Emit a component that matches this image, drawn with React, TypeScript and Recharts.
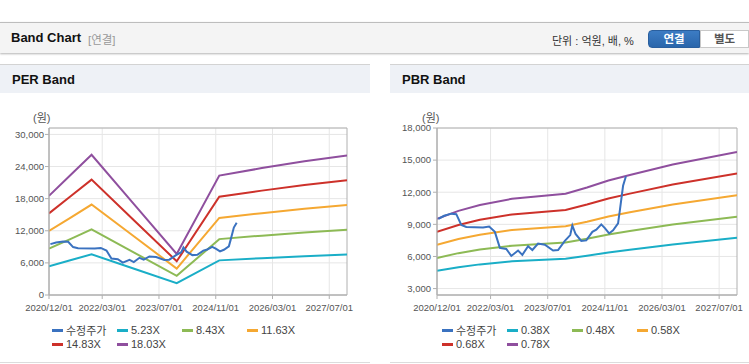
import React from "react";
import { LineChart, Line, XAxis, YAxis, CartesianGrid, ReferenceArea } from "recharts";

// x axis: months counted from 2020/12
const xTickMonths = [0, 15, 31, 47, 63, 79];
const xTickLabels = ["2020/12/01", "2022/03/01", "2023/07/01", "2024/11/01", "2026/03/01", "2027/07/01"];

// PER band
const perMonths = [0, 6, 12, 24, 36, 48, 60, 72, 84];
const per523 = [5380, 6490, 7600, 4910, 2220, 6470, 6880, 7240, 7560];
const per843 = [8670, 10450, 12250, 7920, 3580, 10440, 11090, 11680, 12180];
const per1163 = [11960, 14420, 16900, 10920, 4940, 14400, 15290, 16110, 16810];
const per1483 = [15250, 18390, 21550, 13930, 6300, 18360, 19500, 20540, 21430];
const per1803 = [18530, 22360, 26200, 16930, 7660, 22320, 23710, 24970, 26050];
const perLabels = ["5.23X", "8.43X", "11.63X", "14.83X", "18.03X"];
const perTicks = [0, 6000, 12000, 18000, 24000, 30000];

// PBR band
const pbrMonths = [0, 6, 12, 21, 36, 42, 48, 54, 66, 84];
const pbr038 = [4660, 5000, 5260, 5550, 5780, 6060, 6380, 6630, 7110, 7750];
const pbr048 = [5860, 6310, 6650, 7010, 7300, 7660, 8060, 8380, 8980, 9700];
const pbr058 = [7080, 7630, 8030, 8470, 8820, 9250, 9740, 10120, 10850, 11720];
const pbr068 = [8300, 8940, 9420, 9930, 10340, 10850, 11420, 11870, 12720, 13740];
const pbr078 = [9520, 10260, 10800, 11390, 11860, 12440, 13100, 13610, 14590, 15760];
const pbrLabels = ["0.38X", "0.48X", "0.58X", "0.68X", "0.78X"];
const pbrTicks = [3000, 6000, 9000, 12000, 15000, 18000];

// adjusted share price (수정주가)
const priceMonths = [
  0.4, 2, 4, 5.4, 6.8, 8.2, 12.9, 14.6, 16.2, 17.6, 19.4, 20.8, 22.7, 23.9, 25.5, 26.7, 28.3, 30.2,
  32.5, 33.9, 35.8, 37.3, 37.9, 38.8, 40.4, 41.8, 43.5, 44.6, 46, 47, 48.2, 49.3, 50.7, 51.2, 52.1, 52.9,
];
const priceValues = [
  9500, 9800, 10000, 9950, 8950, 8750, 8700, 8800, 8300, 6800, 6700, 6050, 6550, 6150, 6950, 6600, 7200, 7100,
  6550, 6600, 7450, 8000, 8900, 8100, 7450, 7500, 8300, 8500, 9000, 8650, 8150, 8450, 9100, 10300, 12600, 13500,
];

const bandColors = ["#1aaec7", "#8dba55", "#f5a832", "#cd312a", "#8f4f9e"];
const priceColor = "#3a72c0";
const font = '"Liberation Sans", Arial, "Noto Sans CJK KR", sans-serif';

const toPts = (months: number[], vals: number[]) => months.map((m, i) => ({ m, v: vals[i] }));

type Series = { name: string; color: string; data: { m: number; v: number }[] };

function BandChart(props: {
  width: number;
  yWidth: number;
  right: number;
  domain: [number, number];
  ticks: number[];
  tickMargin: number;
  series: Series[];
}) {
  const { width, yWidth, right, domain, ticks, tickMargin, series } = props;
  const tickStyle = { fontSize: 9.5, fill: "#555", fontFamily: font };
  return (
    <LineChart width={width} height={215} margin={{ top: 28, right, left: 0, bottom: 0 }}>
      <CartesianGrid stroke="#e6e6e6" verticalValues={xTickMonths} />
      <XAxis
        dataKey="m"
        type="number"
        domain={[0, 84]}
        ticks={xTickMonths}
        tickFormatter={(v) => xTickLabels[xTickMonths.indexOf(v)]}
        interval={0}
        allowDataOverflow
        height={20}
        tickSize={4}
        tickMargin={5}
        stroke="#b0b0b0"
        tick={tickStyle}
      />
      <YAxis
        type="number"
        domain={domain}
        ticks={ticks}
        allowDataOverflow
        width={yWidth}
        tickSize={4}
        tickMargin={tickMargin}
        stroke="#b0b0b0"
        tick={tickStyle}
        tickFormatter={(v) => Number(v).toLocaleString("en-US")}
      />
      <ReferenceArea x1={0} x2={84} y1={domain[0]} y2={domain[1]} fill="none" stroke="#b0b0b0" />
      {series.map((s) => (
        <Line
          key={s.name}
          data={s.data}
          dataKey="v"
          name={s.name}
          stroke={s.color}
          strokeWidth={2}
          dot={false}
          activeDot={false}
          isAnimationActive={false}
        />
      ))}
    </LineChart>
  );
}

function Legend({ items }: { items: { name: string; color: string }[] }) {
  const cols = [52, 117, 182, 247];
  return (
    <>
      {items.map((it, i) => (
        <div
          key={it.name}
          style={{
            position: "absolute",
            left: cols[i % 4],
            top: i < 4 ? 323 : 337,
            height: 14,
            display: "flex",
            alignItems: "center",
            fontSize: 11,
            color: "#444",
            fontFamily: font,
            whiteSpace: "nowrap",
          }}
        >
          <span style={{ display: "inline-block", width: 11, height: 3, background: it.color, marginRight: 3 }} />
          {it.name}
        </div>
      ))}
    </>
  );
}

function Panel({
  left,
  width,
  title,
  chart,
  legend,
  unitLeft,
}: {
  left: number;
  width: number;
  title: string;
  chart: React.ReactNode;
  legend: { name: string; color: string }[];
  unitLeft: number;
}) {
  return (
    <div style={{ position: "absolute", left, top: 64, width, height: 300 }}>
      <div
        style={{
          position: "absolute",
          left: 0,
          top: 0,
          width,
          height: 28,
          background: "#eef1f6",
          borderTop: "1px solid #d3d3d3",
        }}
      >
        <span
          style={{
            position: "absolute",
            left: 12,
            top: 7,
            fontSize: 13,
            fontWeight: "bold",
            color: "#111",
            fontFamily: font,
          }}
        >
          {title}
        </span>
      </div>
      <div
        style={{
          position: "absolute",
          left: unitLeft,
          top: 47,
          height: 14,
          lineHeight: "14px",
          fontSize: 11,
          color: "#555",
          fontFamily: font,
        }}
      >
        (원)
      </div>
      <div style={{ position: "absolute", left: 0, top: 36 }}>{chart}</div>
      <div style={{ position: "absolute", left: 0, top: 0 }}>
        <div style={{ position: "relative", top: -64 }}>
          <Legend items={legend} />
        </div>
      </div>
      <div style={{ position: "absolute", left: 0, top: 298, width, height: 1, background: "#dcdcdc" }} />
    </div>
  );
}

export default function App() {
  const perSeries: Series[] = [
    ...[per523, per843, per1163, per1483, per1803].map((vals, i) => ({
      name: perLabels[i],
      color: bandColors[i],
      data: toPts(perMonths, vals),
    })),
    { name: "수정주가", color: priceColor, data: toPts(priceMonths, priceValues) },
  ];
  const pbrSeries: Series[] = [
    ...[pbr038, pbr048, pbr058, pbr068, pbr078].map((vals, i) => ({
      name: pbrLabels[i],
      color: bandColors[i],
      data: toPts(pbrMonths, vals),
    })),
    { name: "수정주가", color: priceColor, data: toPts(priceMonths, priceValues) },
  ];
  const perLegend = [{ name: "수정주가", color: priceColor }, ...perLabels.map((n, i) => ({ name: n, color: bandColors[i] }))];
  const pbrLegend = [{ name: "수정주가", color: priceColor }, ...pbrLabels.map((n, i) => ({ name: n, color: bandColors[i] }))];

  return (
    <div style={{ position: "absolute", left: 0, top: 0, width: 749, height: 364, background: "#fff", overflow: "hidden", fontFamily: font }}>
      {/* header bar */}
      <div
        style={{
          position: "absolute",
          left: 0,
          top: 22,
          width: 749,
          height: 30,
          background: "#f4f4f4",
          borderTop: "1px solid #bdbdbd",
          boxShadow: "0 1px 2px rgba(0,0,0,0.3)",
        }}
      >
        <span style={{ position: "absolute", left: 11, top: 7, fontSize: 13, fontWeight: "bold", color: "#111" }}>
          Band Chart
        </span>
        <span style={{ position: "absolute", left: 88, top: 8, fontSize: 11.5, color: "#999" }}>[연결]</span>
        <span style={{ position: "absolute", left: 552, top: 9, fontSize: 11, color: "#333" }}>단위 : 억원, 배, %</span>
        <div
          style={{
            position: "absolute",
            left: 648,
            top: 7,
            width: 52,
            height: 18,
            background: "linear-gradient(#3c7cc4, #2a66ab)",
            border: "1px solid #2a5f9e",
            borderRadius: "4px 0 0 4px",
            color: "#fff",
            fontSize: 11.5,
            fontWeight: "bold",
            textAlign: "center",
            lineHeight: "16px",
            boxSizing: "border-box",
          }}
        >
          연결
        </div>
        <div
          style={{
            position: "absolute",
            left: 700,
            top: 7,
            width: 49,
            height: 18,
            background: "#fff",
            border: "1px solid #c8c8c8",
            color: "#555",
            fontSize: 11.5,
            fontWeight: "bold",
            textAlign: "center",
            lineHeight: "16px",
            boxSizing: "border-box",
          }}
        >
          별도
        </div>
      </div>

      <Panel
        left={0}
        width={370}
        title="PER Band"
        unitLeft={33}
        legend={perLegend}
        chart={
          <BandChart width={370} yWidth={49} right={23} domain={[0, 31200]} ticks={perTicks} tickMargin={1} series={perSeries} />
        }
      />
      <Panel
        left={390}
        width={359}
        title="PBR Band"
        unitLeft={32}
        legend={pbrLegend}
        chart={
          <BandChart width={359} yWidth={47} right={12} domain={[2400, 18000]} ticks={pbrTicks} tickMargin={2} series={pbrSeries} />
        }
      />
    </div>
  );
}
